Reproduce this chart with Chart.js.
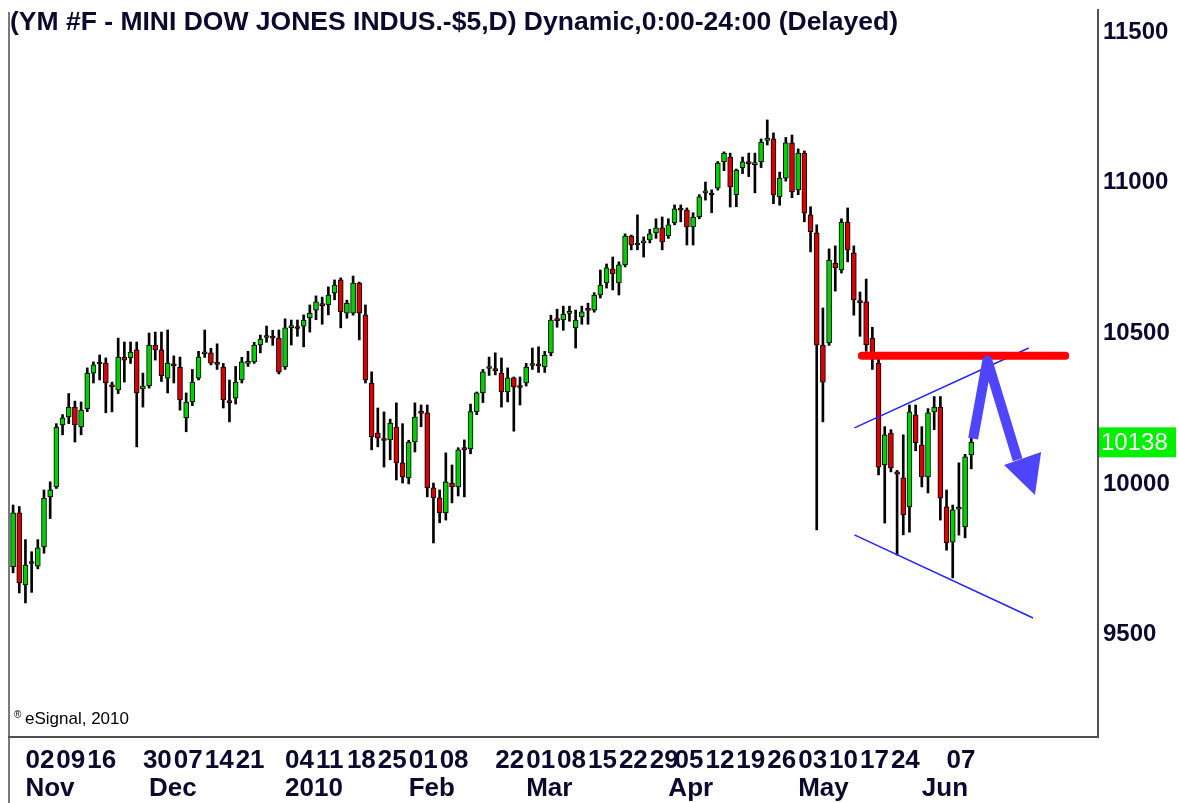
<!DOCTYPE html>
<html>
<head>
<meta charset="utf-8">
<title>YM #F daily</title>
<script src="https://cdn.jsdelivr.net/npm/chart.js@4.4.0/dist/chart.umd.min.js"></script>
<style>
  html, body { margin: 0; padding: 0; background: #fff; }
  canvas { display: block; }
</style>
</head>
<body>
<canvas id="myChart" width="1179" height="803"></canvas>
<script>
// daily bars, 29 Oct 2009 .. 11 Jun 2010
var openPrices = [
  9725, 9904, 9665, 9742, 9727, 9791, 9957, 9990, 10196, 10222,
  10255, 10189, 10249, 10368, 10401, 10401, 10328, 10312, 10421, 10418,
  10445, 10315, 10325, 10461, 10445, 10351, 10395, 10388, 10219, 10272,
  10351, 10432, 10435, 10400, 10388, 10274, 10285, 10345, 10400, 10405,
  10461, 10486, 10487, 10484, 10388, 10519, 10520, 10524, 10551, 10577,
  10596, 10594, 10634, 10677, 10567, 10567, 10667, 10561, 10335, 10169,
  10148, 10146, 10189, 10070, 10020, 10139, 10238, 10236, 9987, 9954,
  9904, 10003, 9990, 10118, 10116, 10240, 10302, 10383, 10380, 10368,
  10305, 10352, 10322, 10335, 10393, 10395, 10388, 10435, 10544, 10544,
  10566, 10518, 10554, 10578, 10577, 10627, 10667, 10713, 10667, 10727,
  10823, 10793, 10800, 10810, 10833, 10850, 10823, 10866, 10913, 10909,
  10853, 10886, 10966, 10962, 10982, 11069, 11085, 10960, 11050, 11066,
  11060, 11069, 11140, 11145, 10953, 11015, 11132, 10976, 11098, 10893,
  10833, 10461, 10468, 10733, 10710, 10869, 10767, 10606, 10604, 10484,
  10401, 10063, 10169, 10040, 10020, 9924, 10229, 10129, 10023, 10239,
  10255, 9924, 9807, 9916, 9857, 10096
];
var highPrices = [
  9930, 9925, 9815, 9775, 9815, 9980, 10007, 10200, 10230, 10300,
  10275, 10272, 10385, 10405, 10428, 10418, 10338, 10484, 10471, 10471,
  10471, 10368, 10501, 10504, 10504, 10511, 10425, 10421, 10302, 10380,
  10440, 10511, 10450, 10465, 10400, 10345, 10390, 10420, 10440, 10470,
  10494, 10524, 10510, 10511, 10548, 10544, 10544, 10561, 10594, 10624,
  10620, 10654, 10677, 10684, 10610, 10690, 10670, 10594, 10372, 10252,
  10239, 10215, 10269, 10200, 10145, 10269, 10262, 10262, 10003, 9980,
  10103, 10063, 10120, 10146, 10265, 10305, 10380, 10421, 10435, 10418,
  10385, 10355, 10355, 10400, 10451, 10455, 10440, 10560, 10580, 10590,
  10590, 10577, 10590, 10600, 10635, 10710, 10730, 10753, 10737, 10830,
  10826, 10893, 10820, 10845, 10880, 10886, 10880, 10926, 10926, 10916,
  10900, 10960, 11002, 10976, 11070, 11102, 11098, 11045, 11085, 11098,
  11098, 11145, 11208, 11165, 11035, 11150, 11158, 11112, 11105, 10920,
  10860, 10584, 10780, 10790, 10880, 10916, 10790, 10637, 10680, 10520,
  10425, 10190, 10180, 10045, 10163, 10262, 10262, 10190, 10250, 10290,
  10290, 9980, 9930, 10070, 10098, 10160
];
var lowPrices = [
  9705, 9638, 9605, 9640, 9718, 9770, 9885, 9985, 10163, 10200,
  10139, 10163, 10240, 10335, 10345, 10236, 10239, 10300, 10338, 10400,
  10123, 10255, 10318, 10411, 10340, 10302, 10335, 10245, 10173, 10260,
  10345, 10420, 10395, 10380, 10252, 10206, 10265, 10335, 10390, 10400,
  10435, 10470, 10460, 10365, 10380, 10461, 10490, 10455, 10504, 10545,
  10530, 10561, 10611, 10518, 10550, 10560, 10478, 10335, 10113, 10123,
  10056, 10080, 10013, 10003, 10000, 10106, 10190, 9957, 9804, 9871,
  9880, 9937, 9960, 9957, 10100, 10230, 10270, 10360, 10362, 10255,
  10272, 10175, 10262, 10325, 10380, 10370, 10370, 10425, 10520, 10510,
  10540, 10451, 10530, 10530, 10570, 10617, 10650, 10644, 10627, 10720,
  10777, 10777, 10753, 10800, 10815, 10777, 10815, 10860, 10870, 10793,
  10793, 10880, 10942, 10900, 10975, 11040, 10919, 10920, 11030, 11020,
  10966, 11050, 11125, 10930, 10925, 11005, 10950, 10960, 10870, 10770,
  9847, 10206, 10460, 10640, 10700, 10737, 10560, 10490, 10440, 10380,
  10030, 9870, 10040, 9764, 9831, 9840, 10110, 9990, 9970, 10180,
  9880, 9780, 9688, 9830, 9821, 10050
];
var closePrices = [
  9904, 9671, 9731, 9736, 9788, 9953, 9980, 10189, 10219, 10255,
  10196, 10245, 10368, 10395, 10398, 10335, 10322, 10421, 10411, 10438,
  10302, 10325, 10461, 10445, 10359, 10401, 10392, 10279, 10272, 10338,
  10421, 10437, 10401, 10397, 10279, 10270, 10338, 10405, 10403, 10461,
  10481, 10490, 10484, 10371, 10518, 10522, 10516, 10544, 10567, 10604,
  10592, 10627, 10660, 10571, 10600, 10667, 10567, 10345, 10156, 10153,
  10144, 10202, 10070, 10023, 10139, 10222, 10234, 9987, 9954, 9904,
  10007, 9990, 10113, 10114, 10240, 10302, 10372, 10387, 10376, 10305,
  10352, 10322, 10320, 10388, 10397, 10392, 10428, 10544, 10542, 10564,
  10568, 10544, 10571, 10576, 10627, 10660, 10717, 10697, 10727, 10823,
  10793, 10796, 10802, 10830, 10850, 10803, 10860, 10913, 10909, 10853,
  10886, 10953, 10969, 10959, 11065, 11098, 10986, 11042, 11069, 11063,
  11065, 11135, 11148, 10959, 11015, 11132, 10969, 11098, 10899, 10837,
  10461, 10338, 10743, 10717, 10869, 10777, 10611, 10602, 10461, 10435,
  10056, 10163, 10053, 10032, 9897, 10239, 10136, 10023, 10236, 10255,
  9953, 9804, 9914, 9922, 10090, 10138
];

// session calendar: first bar, days with no bar, empty slots on the right
var firstDay = "2009-10-29";
var noBarDays = ["2009-11-26", "2009-12-25", "2010-01-01", "2010-02-15", "2010-04-02", "2010-05-31"];
var blankSlots = 20;

// axis labels
var weekTicks = ["2009-11-02", "2009-11-09", "2009-11-16", "2009-11-30", "2009-12-07", "2009-12-14",
  "2009-12-21", "2010-01-04", "2010-01-11", "2010-01-18", "2010-01-25", "2010-02-01", "2010-02-08",
  "2010-02-22", "2010-03-01", "2010-03-08", "2010-03-15", "2010-03-22", "2010-03-29", "2010-04-05",
  "2010-04-12", "2010-04-19", "2010-04-26", "2010-05-03", "2010-05-10", "2010-05-17", "2010-05-24",
  "2010-06-07"];
var monthTicks = ["2009-11-02", "2009-12-01", "2010-01-04", "2010-02-01", "2010-03-01", "2010-04-01", "2010-05-03", "2010-06-01"];
var monthNames = ["Nov", "Dec", "2010", "Feb", "Mar", "Apr", "May", "Jun"];
var yTicks = [9500, 10000, 10500, 11000, 11500];

var titleText = "(YM #F - MINI DOW JONES INDUS.-$5,D) Dynamic,0:00-24:00 (Delayed)";

// hand drawn marks, as [bar index, price]
var resistance = [[137.3, 10425], [170.2, 10425]];
var upperTrend = [[136.1, 10186], [164.3, 10451]];
var lowerTrend = [[136.1, 9831], [165.0, 9555]];
var arrowPath = [[155.3, 10150], [157.6, 10410], [162.5, 10080]];
var arrowHead = [[160.3, 10063], [166.3, 10106], [165.3, 9963]];

function buildDays() {
  var out = [];
  var p = firstDay.split("-");
  var d = new Date(Date.UTC(+p[0], +p[1] - 1, +p[2]));
  var total = closePrices.length + blankSlots;
  while (out.length < total) {
    var s = d.toISOString().slice(0, 10);
    var wd = d.getUTCDay();
    if (wd != 0 && wd != 6 && noBarDays.indexOf(s) < 0) out.push(s);
    d.setUTCDate(d.getUTCDate() + 1);
  }
  return out;
}
var days = buildDays();

var bodies = [], wicks = [], bodyColors = [];
for (var i = 0; i < closePrices.length; i++) {
  bodies.push([openPrices[i], closePrices[i]]);
  wicks.push([lowPrices[i], highPrices[i]]);
  bodyColors.push(closePrices[i] >= openPrices[i] ? "#00d000" : "#d80000");
}

var FONT = "'Liberation Sans', Arial, sans-serif";
var INK = "#0a0a2e";

function noPad(s) { s.paddingTop = 0; s.paddingBottom = 0; s.paddingLeft = 0; s.paddingRight = 0; }

var overlay = {
  id: "overlay",
  afterDatasetsDraw: function (chart) {
    var ctx = chart.ctx, xs = chart.scales.x, ys = chart.scales.y;
    function pt(p) { return [xs.getPixelForValue(p[0]), ys.getPixelForValue(p[1])]; }
    function line(pts, color, w, cap) {
      ctx.beginPath();
      ctx.strokeStyle = color; ctx.lineWidth = w; ctx.lineCap = cap || "butt"; ctx.lineJoin = "round";
      pts.forEach(function (p, k) { var q = pt(p); if (k == 0) ctx.moveTo(q[0], q[1]); else ctx.lineTo(q[0], q[1]); });
      ctx.stroke();
    }
    ctx.save();
    line(upperTrend, "#2222ff", 1.5);
    line(lowerTrend, "#2222ff", 1.5);
    line(resistance, "#ff0000", 8, "round");
    line(arrowPath, "#4f45ff", 10);
    ctx.beginPath();
    ctx.fillStyle = "#4f45ff";
    arrowHead.forEach(function (p, k) { var q = pt(p); if (k == 0) ctx.moveTo(q[0], q[1]); else ctx.lineTo(q[0], q[1]); });
    ctx.closePath();
    ctx.fill();
    ctx.restore();
  },
  afterDraw: function (chart) {
    var ctx = chart.ctx, a = chart.chartArea, ys = chart.scales.y;
    ctx.save();
    // frame
    ctx.strokeStyle = "#7a7a7a"; ctx.lineWidth = 2;
    ctx.beginPath(); ctx.moveTo(9, a.top + 2); ctx.lineTo(9, chart.height); ctx.stroke();
    ctx.strokeStyle = "#505050";
    ctx.beginPath(); ctx.moveTo(8, a.bottom); ctx.lineTo(a.right + 1, a.bottom); ctx.stroke();
    // title
    ctx.fillStyle = INK;
    ctx.font = "bold 26.5px " + FONT;
    ctx.textBaseline = "top"; ctx.textAlign = "left";
    ctx.fillText(titleText, 10, 9);
    // copyright
    ctx.fillStyle = "#000";
    ctx.textBaseline = "middle";
    ctx.font = "10px " + FONT;
    ctx.fillText("\u00AE", 14, 715);
    ctx.font = "17px " + FONT;
    ctx.fillText("eSignal, 2010", 25, 719);
    // last price tag
    var last = closePrices[closePrices.length - 1];
    var y = ys.getPixelForValue(last);
    ctx.fillStyle = "#00f000";
    ctx.fillRect(a.right + 1, y - 15, 77, 30);
    ctx.fillStyle = "#ffffff";
    ctx.font = "24px " + FONT;
    ctx.fillText(String(last), a.right + 3, y + 1);
    ctx.restore();
  }
};

new Chart("myChart", {
  type: "bar",
  data: {
    labels: days,
    datasets: [{
      data: bodies,
      backgroundColor: bodyColors,
      borderColor: "#000",
      borderWidth: 1,
      borderSkipped: false,
      barThickness: 5,
      minBarLength: 2,
      grouped: false,
      order: 0
    }, {
      data: wicks,
      backgroundColor: "#000",
      borderWidth: 0,
      barThickness: 2,
      grouped: false,
      order: 1
    }]
  },
  options: {
    responsive: false,
    animation: false,
    devicePixelRatio: 1,
    layout: { padding: { left: 10, top: 10, right: 0, bottom: 0 } },
    plugins: { legend: { display: false }, tooltip: { enabled: false }, title: { display: false } },
    scales: {
      x: {
        type: "category",
        position: "bottom",
        grid: { display: false, drawTicks: false },
        border: { display: false },
        afterFit: function (s) { s.height = 33; noPad(s); },
        ticks: {
          autoSkip: false, maxRotation: 0, minRotation: 0, align: "start", padding: 8,
          color: INK, font: { family: FONT, size: 26, weight: "bold" },
          callback: function (v, idx) {
            var d = days[idx];
            return weekTicks.indexOf(d) >= 0 ? d.slice(8, 10) : "";
          }
        }
      },
      x2: {
        type: "category",
        position: "bottom",
        grid: { display: false, drawTicks: false },
        border: { display: false },
        afterFit: function (s) { s.height = 33; noPad(s); },
        ticks: {
          autoSkip: false, maxRotation: 0, minRotation: 0, align: "start", padding: 3,
          color: INK, font: { family: FONT, size: 26, weight: "bold" },
          callback: function (v, idx) {
            var k = monthTicks.indexOf(days[idx]);
            return k >= 0 ? monthNames[k] : "";
          }
        }
      },
      y: {
        position: "right",
        min: 9160,
        max: 11573,
        grid: { display: false, drawTicks: false },
        border: { display: true, color: "#505050", width: 2 },
        afterFit: function (s) { s.width = 81; noPad(s); },
        afterBuildTicks: function (s) { s.ticks = yTicks.map(function (v) { return { value: v }; }); },
        ticks: {
          padding: 5,
          color: INK, font: { family: FONT, size: 24, weight: "bold" },
          callback: function (v) { return String(v); }
        }
      }
    }
  },
  plugins: [overlay]
});
</script>
</body>
</html>
